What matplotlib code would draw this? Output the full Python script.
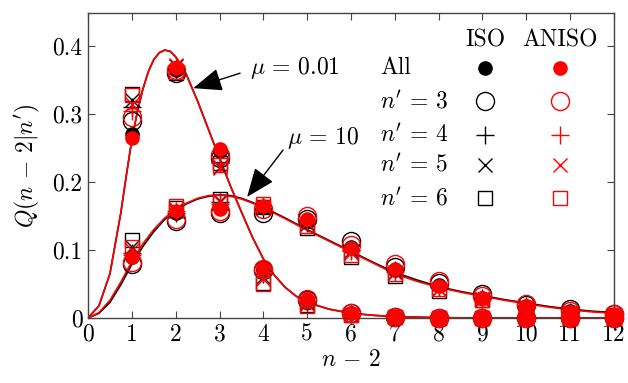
import matplotlib
matplotlib.use("Agg")
import matplotlib.pyplot as plt

plt.rcParams['font.family'] = 'serif'
plt.rcParams['font.serif'] = ['cmr10']
plt.rcParams['mathtext.fontset'] = 'cm'
plt.rcParams['axes.formatter.use_mathtext'] = True

# smooth model curves
xc_narrow = [0, 0.25, 0.5, 0.75, 0.875, 1.0, 1.125, 1.25, 1.375, 1.5, 1.625, 1.75, 1.875,
             2.0, 2.125, 2.25, 2.5, 2.75, 3.0, 3.25, 3.5, 3.75, 4.0, 4.25, 4.5, 4.75, 5.0,
             5.5, 6.0, 6.5, 7.0, 8.0, 9.0, 10.0, 11.0, 12.0]
yc_narrow = [0, 0.018, 0.065, 0.155, 0.21, 0.262, 0.303, 0.336, 0.362, 0.380, 0.390, 0.394,
             0.392, 0.384, 0.372, 0.357, 0.319, 0.277, 0.235, 0.194, 0.156, 0.119, 0.087,
             0.063, 0.045, 0.032, 0.023, 0.013, 0.007, 0.004, 0.002, 0.0005, 0, 0, 0, 0]
xc_wide = [0, 0.25, 0.5, 0.75, 1.0, 1.25, 1.5, 1.75, 2.0, 2.25, 2.5, 2.75, 3.0, 3.25, 3.5,
           3.75, 4.0, 4.5, 5.0, 5.5, 6.0, 6.5, 7.0, 7.5, 8.0, 8.5, 9.0, 9.5, 10.0, 10.5,
           11.0, 11.5, 12.0]
yc_wide_iso = [0, 0.007, 0.023, 0.049, 0.079, 0.105, 0.127, 0.145, 0.158, 0.168, 0.175, 0.179,
               0.181, 0.180, 0.176, 0.170, 0.163, 0.147, 0.130, 0.114, 0.098, 0.082, 0.067,
               0.056, 0.046, 0.039, 0.033, 0.027, 0.022, 0.017, 0.013, 0.010, 0.008]
yc_wide_aniso = [0, 0.008, 0.026, 0.053, 0.083, 0.109, 0.130, 0.147, 0.160, 0.169, 0.176,
                 0.180, 0.181, 0.179, 0.175, 0.169, 0.162, 0.146, 0.129, 0.113, 0.097, 0.081,
                 0.065, 0.054, 0.045, 0.038, 0.032, 0.026, 0.021, 0.016, 0.012, 0.009, 0.007]

n = list(range(1, 13))

# mu = 0.01
iso_all_a = [0.27, 0.365, 0.245, 0.072, 0.027, 0.007, 0.002, 0, 0, 0, 0, 0]
aniso_all_a = [0.265, 0.368, 0.248, 0.074, 0.028, 0.008, 0.002, 0, 0, 0, 0, 0]
iso_3_a = [0.29, 0.36, 0.235, 0.07, 0.026, 0.008, 0.001, 0, 0, 0, 0, 0]
aniso_3_a = [0.295, 0.365, 0.24, 0.072, 0.028, 0.008, 0.002, 0, 0, 0, 0, 0]
iso_4_a = [0.31, 0.365, 0.23, 0.065, 0.024, 0.006, 0.001, 0, 0, 0, 0, 0]
aniso_4_a = [0.305, 0.37, 0.228, 0.066, 0.025, 0.006, 0.001, 0, 0, 0, 0, 0]
iso_5_a = [0.32, 0.37, 0.222, 0.06, 0.022, 0.005, 0.001, 0, 0, 0, 0, 0]
aniso_5_a = [0.315, 0.372, 0.22, 0.058, 0.021, 0.005, 0.001, 0, 0, 0, 0, 0]
iso_6_a = [0.33, 0.36, 0.228, 0.052, 0.019, 0.004, 0.001, 0, 0, 0, 0, 0]
aniso_6_a = [0.328, 0.362, 0.225, 0.05, 0.018, 0.004, 0.001, 0, 0, 0, 0, 0]

# mu = 10
iso_all_b = [0.09, 0.155, 0.162, 0.163, 0.142, 0.105, 0.07, 0.048, 0.03, 0.018, 0.01, 0.005]
aniso_all_b = [0.09, 0.157, 0.16, 0.165, 0.145, 0.103, 0.072, 0.047, 0.029, 0.017, 0.009, 0.005]
iso_3_b = [0.08, 0.142, 0.155, 0.155, 0.145, 0.113, 0.075, 0.052, 0.035, 0.019, 0.013, 0.006]
aniso_3_b = [0.083, 0.145, 0.157, 0.16, 0.15, 0.108, 0.08, 0.055, 0.033, 0.021, 0.01, 0.006]
iso_4_b = [0.095, 0.155, 0.17, 0.16, 0.14, 0.1, 0.07, 0.045, 0.03, 0.017, 0.009, 0.005]
aniso_4_b = [0.093, 0.157, 0.168, 0.165, 0.142, 0.098, 0.068, 0.045, 0.028, 0.016, 0.008, 0.004]
iso_5_b = [0.105, 0.158, 0.172, 0.162, 0.138, 0.098, 0.067, 0.043, 0.028, 0.016, 0.008, 0.004]
aniso_5_b = [0.1, 0.16, 0.17, 0.165, 0.14, 0.095, 0.066, 0.043, 0.027, 0.015, 0.007, 0.004]
iso_6_b = [0.115, 0.162, 0.175, 0.163, 0.133, 0.09, 0.062, 0.04, 0.026, 0.015, 0.008, 0.004]
aniso_6_b = [0.105, 0.165, 0.17, 0.168, 0.135, 0.092, 0.064, 0.042, 0.027, 0.015, 0.008, 0.004]

row_labels = ['All', r"$n'\,=\,3$", r"$n'\,=\,4$", r"$n'\,=\,5$", r"$n'\,=\,6$"]
markers = [dict(marker='o', ms=9.5, mfc='C'),
           dict(marker='o', ms=13, mfc='none'),
           dict(marker='+', ms=13),
           dict(marker='x', ms=10),
           dict(marker='s', ms=10, mfc='none')]

iso_sets = [[iso_all_a, iso_3_a, iso_4_a, iso_5_a, iso_6_a],
            [iso_all_b, iso_3_b, iso_4_b, iso_5_b, iso_6_b]]
aniso_sets = [[aniso_all_a, aniso_3_a, aniso_4_a, aniso_5_a, aniso_6_a],
              [aniso_all_b, aniso_3_b, aniso_4_b, aniso_5_b, aniso_6_b]]

fig = plt.figure(figsize=(6.28, 3.83), dpi=100)
fig.set_facecolor('white')
ax = fig.add_axes([88/628, 1-318/383, 526/628, 305/383])

def mk(i, color):
    m = dict(markers[i])
    if m.get('mfc') == 'C':
        m['mfc'] = color
    return m

# curves
ax.plot(xc_narrow, yc_narrow, color='k', lw=1.2)
ax.plot(xc_wide, yc_wide_iso, color='k', lw=1.2)
ax.plot(xc_narrow, yc_narrow, color='r', lw=1.2)
ax.plot(xc_wide, yc_wide_aniso, color='r', lw=1.2)

# markers
for color, sets in [('k', iso_sets), ('r', aniso_sets)]:
    for group in sets:
        for i, vals in enumerate(group):
            ax.plot(n, vals, ls='none', color=color, mec=color, mew=1.0,
                    clip_on=False, zorder=3, **mk(i, color))

ax.set_xlim(0, 12)
ax.set_ylim(0, 0.4485)
ax.set_xticks(range(0, 13))
ax.set_xticklabels([str(v) for v in range(0, 13)])
ax.set_yticks([0, 0.1, 0.2, 0.3, 0.4])
ax.set_yticklabels(['0', '0.1', '0.2', '0.3', '0.4'])
ax.tick_params(direction='in', length=5, width=0.8, color='#444444', labelsize=17,
               top=True, right=True, pad=4)
for s in ax.spines.values():
    s.set_color('#444444')
    s.set_linewidth(1.0)
ax.set_xlabel(r'$n\,-\,2$', fontsize=17, labelpad=2)
ax.set_ylabel(r"$Q(n\,-\,2|n')$", fontsize=17, labelpad=7)

# annotations
ax.text(4.73, 0.368, r'$\mu\,=\,0.01$', fontsize=17, ha='center', va='center')
ax.annotate('', xy=(2.40, 0.338), xytext=(3.47, 0.360),
            arrowprops=dict(arrowstyle='-|>,head_length=0.9,head_width=0.36', color='k',
                            lw=1.0, shrinkA=0, shrinkB=0, mutation_scale=20))
ax.text(5.37, 0.265, r'$\mu\,=\,10$', fontsize=17, ha='center', va='center')
ax.annotate('', xy=(3.63, 0.178), xytext=(4.45, 0.247),
            arrowprops=dict(arrowstyle='-|>,head_length=0.9,head_width=0.36', color='k',
                            lw=1.0, shrinkA=0, shrinkB=0, mutation_scale=20))

# table-like legend
col_iso = 0.755
col_aniso = 0.897
ax.text(col_iso, 0.911, 'ISO', transform=ax.transAxes, fontsize=17, ha='center', va='center')
ax.text(col_aniso, 0.911, 'ANISO', transform=ax.transAxes, fontsize=17, ha='center', va='center')
row_y = [0.820, 0.711, 0.600, 0.502, 0.393]
for i, (lab, yy) in enumerate(zip(row_labels, row_y)):
    ax.text(0.555, yy, lab, transform=ax.transAxes, fontsize=17, ha='left', va='center')
    ax.plot([col_iso], [yy], transform=ax.transAxes, color='k', mec='k', mew=1.0,
            clip_on=False, **mk(i, 'k'))
    ax.plot([col_aniso], [yy], transform=ax.transAxes, color='r', mec='r', mew=1.0,
            clip_on=False, **mk(i, 'r'))

fig.savefig('out.png', dpi=100, facecolor='white')
